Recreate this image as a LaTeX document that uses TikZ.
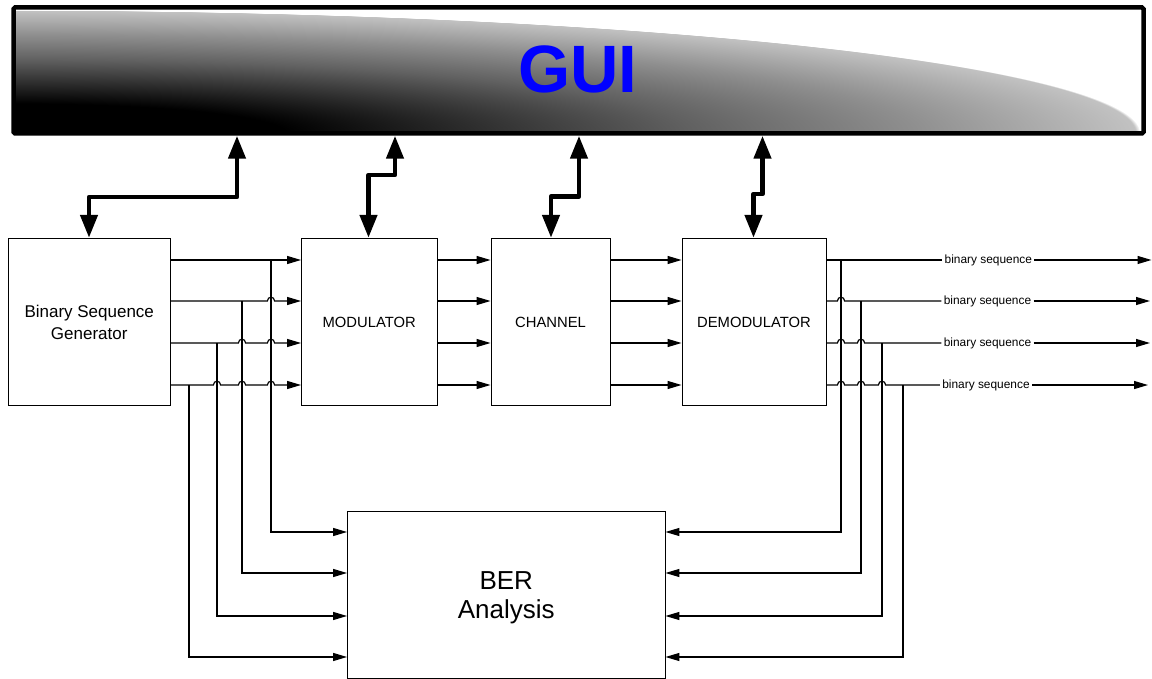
\documentclass[tikz,border=0pt]{standalone}
\usepackage{fontspec}
\setmainfont{Liberation Sans}
\usetikzlibrary{arrows.meta}

% radial glow used behind the GUI title
\pgfdeclareradialshading{guiglow}{\pgfpoint{0bp}{0bp}}{%
  color(0bp)=(black); color(6bp)=(black); color(15bp)=(black!62);
  color(20bp)=(black!44); color(24.9bp)=(black!24); color(25bp)=(white);
  color(50bp)=(white)}

\tikzset{
  box/.style={draw, line width=0.9pt, inner sep=0pt, align=center,
    font=\fontsize{14.8}{17}\selectfont},
  sig/.style={line width=1.2pt, -{Triangle[length=14pt,width=8pt]}},
  wire/.style={line width=1.2pt},
  ctl/.style={line width=4.5pt, line join=round,
    {Triangle[length=23pt,width=17pt]}-{Triangle[length=23pt,width=17pt]}},
  lbl/.style={inner xsep=2.2pt, inner ysep=1pt, fill=white,
    font=\fontsize{11.9}{13}\selectfont},
  hop/.style 2 args={insert path={-- ({#1-3.6},#2)
    .. controls ({#1-3.6},{#2-5}) and ({#1+3.6},{#2-5}) .. ({#1+3.6},#2)}}
}

\begin{document}
\begin{tikzpicture}[x=1pt, y=-1pt]
\useasboundingbox (0,0) rectangle (1152,679);

% GUI panel background
\begin{scope}
  \clip (15.5,9.5) rectangle (1141.5,131.5);
  \shade[shading=guiglow] (16,133) ellipse [x radius=1124pt, y radius=123pt];
\end{scope}
\node[draw, line width=4.5pt, rounded corners=1.5pt, minimum width=1130pt,
  minimum height=126pt, inner sep=0pt] (gui) at (578.5,70.5) {};
\node[text=blue, font=\fontsize{67}{67}\selectfont\bfseries, inner sep=0pt]
  (guititle) at (578,69) {GUI};

% processing blocks
\node[box, minimum width=161.5pt, minimum height=167.5pt,
  font=\fontsize{17}{22}\selectfont] (bsg) at (89.25,322) {Binary Sequence\\Generator};
\node[box, minimum width=135.5pt, minimum height=167.5pt] (mod) at (369.25,322) {MODULATOR};
\node[box, minimum width=119pt, minimum height=167.5pt] (chan) at (550.5,322) {CHANNEL};
\node[box, minimum width=144pt, minimum height=167.5pt] (demod) at (754,322) {DEMODULATOR};
\node[box, minimum width=317.5pt, minimum height=167pt] (ber) at (506.25,594.5) {};
\node[inner sep=0pt, align=center, font=\fontsize{26}{29}\selectfont]
  (bertext) at (506.25,597.5) {BER\\Analysis};

% control links between the GUI and the blocks
\draw[ctl] (gui.south -| 237,0) -- (237,197) -- (89,197) -- (bsg.north -| 89,0);
\draw[ctl] (gui.south -| 395,0) -- (395,175) -- (368.5,175) -- (mod.north -| 368.5,0);
\draw[ctl] (gui.south -| 579,0) -- (579,196.5) -- (551,196.5) -- (chan.north -| 551,0);
\draw[ctl] (gui.south -| 762.5,0) -- (762.5,194) -- (753.5,194) -- (demod.north -| 753.5,0);

% tap points on the generator outputs
\coordinate (t1) at (271,260);
\coordinate (t2) at (242,301);
\coordinate (t3) at (217,343);
\coordinate (t4) at (189,385);

% generator -> modulator
\draw[sig] (bsg.east |- 0,260) -- (mod.west |- 0,260);
\draw[sig] (bsg.east |- 0,301) [hop={271}{301}] -- (mod.west |- 0,301);
\draw[sig] (bsg.east |- 0,343) [hop={242}{343}] [hop={271}{343}] -- (mod.west |- 0,343);
\draw[sig] (bsg.east |- 0,385) [hop={217}{385}] [hop={242}{385}] [hop={271}{385}] -- (mod.west |- 0,385);

% modulator -> channel -> demodulator
\foreach \y in {260,301,343,385} {
  \draw[sig] (mod.east |- 0,\y) -- (chan.west |- 0,\y);
  \draw[sig] (chan.east |- 0,\y) -- (demod.west |- 0,\y);
}

% generator taps into the BER analysis
\draw[sig] (t1) -- (271,532) -- (ber.west |- 0,532);
\draw[sig] (t2) -- (242,573) -- (ber.west |- 0,573);
\draw[sig] (t3) -- (217,616) -- (ber.west |- 0,616);
\draw[sig] (t4) -- (189,657) -- (ber.west |- 0,657);

% demodulator outputs
\node[lbl] (o1) at (988.3,260) {binary sequence};
\node[lbl] (o2) at (987.5,301) {binary sequence};
\node[lbl] (o3) at (987.5,343) {binary sequence};
\node[lbl] (o4) at (986,385) {binary sequence};
\coordinate (e1) at (1151.5,260);
\coordinate (e2) at (1150,301);
\coordinate (e3) at (1150,343);
\coordinate (e4) at (1148,385);

\draw[wire] (demod.east |- 0,260) -- (o1.west);
\draw[wire] (demod.east |- 0,301) [hop={841}{301}] -- (o2.west);
\draw[wire] (demod.east |- 0,343) [hop={841}{343}] [hop={861}{343}] -- (o3.west);
\draw[wire] (demod.east |- 0,385) [hop={841}{385}] [hop={861}{385}] [hop={882}{385}] -- (o4.west);
\draw[sig] (o1.east) -- (e1);
\draw[sig] (o2.east) -- (e2);
\draw[sig] (o3.east) -- (e3);
\draw[sig] (o4.east) -- (e4);

% tap points on the demodulator outputs
\coordinate (u1) at (841,260);
\coordinate (u2) at (861,301);
\coordinate (u3) at (882,343);
\coordinate (u4) at (903,385);

% demodulator taps into the BER analysis
\draw[sig] (u1) -- (841,532) -- (ber.east |- 0,532);
\draw[sig] (u2) -- (861,573) -- (ber.east |- 0,573);
\draw[sig] (u3) -- (882,616) -- (ber.east |- 0,616);
\draw[sig] (u4) -- (903,657) -- (ber.east |- 0,657);
\end{tikzpicture}
\end{document}
